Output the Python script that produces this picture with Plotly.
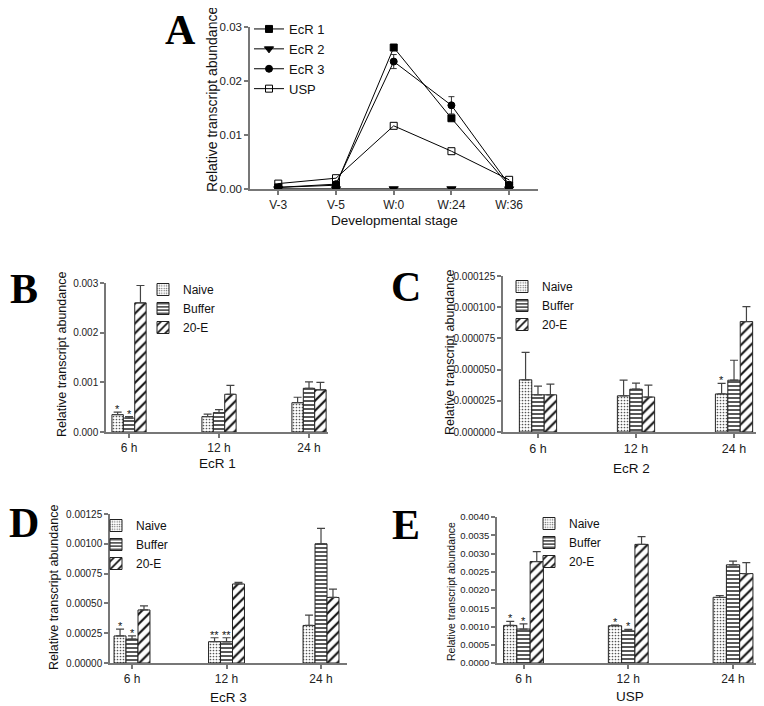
import plotly.graph_objects as go

# page is offset by the browser's default 8px body margin
OX, OY = 8, 8
W, H = 764 - OX, 706 - OY

# ---------------- data ----------------
stages = ["V-3", "V-5", "W:0", "W:24", "W:36"]
ecr1_A = [0.0003, 0.0007, 0.0262, 0.0131, 0.0006]
ecr2_A = [0.00003, 0.00003, 0.00004, 0.00004, 0.00002]
ecr3_A = [0.0003, 0.0009, 0.0236, 0.0155, 0.0008]
ecr3_A_err = [0, 0, 0.0013, 0.0016, 0]
usp_A = [0.0010, 0.0020, 0.0117, 0.0070, 0.0017]

times = ["6 h", "12 h", "24 h"]
groups = ["Naive", "Buffer", "20-E"]

B_naive = [0.00035, 0.00031, 0.00059]; B_naive_err = [0.00005, 0.00005, 0.00011]
B_buffer = [0.00028, 0.00039, 0.00088]; B_buffer_err = [0.00003, 0.00006, 0.00013]
B_20e = [0.0026, 0.00076, 0.00085]; B_20e_err = [0.00035, 0.00018, 0.00015]
B_stars = [["*", "", ""], ["*", "", ""], ["", "", ""]]

C_naive = [0.0000418, 0.000029, 0.0000305]; C_naive_err = [0.000022, 0.0000125, 0.0000085]
C_buffer = [0.0000298, 0.0000343, 0.0000415]; C_buffer_err = [0.0000069, 0.0000048, 0.000016]
C_20e = [0.0000298, 0.000028, 0.0000885]; C_20e_err = [0.0000085, 0.0000095, 0.000012]
C_stars = [["", "", "*"], ["", "", ""], ["", "", ""]]

D_naive = [0.000227, 0.000179, 0.000315]; D_naive_err = [0.000058, 0.000033, 0.000087]
D_buffer = [0.0002, 0.000178, 0.001]; D_buffer_err = [0.000027, 0.000034, 0.00013]
D_20e = [0.000445, 0.000663, 0.00055]; D_20e_err = [0.000035, 0.000014, 0.00007]
D_stars = [["*", "**", ""], ["*", "**", ""], ["", "", ""]]

E_naive = [0.00103, 0.00102, 0.0018]; E_naive_err = [0.00011, 0.00002, 0.00005]
E_buffer = [0.00093, 0.00088, 0.00269]; E_buffer_err = [0.00014, 0.00004, 0.0001]
E_20e = [0.00278, 0.00325, 0.00245]; E_20e_err = [0.00027, 0.00021, 0.0003]
E_stars = [["*", "*", ""], ["*", "*", ""], ["", "", ""]]

# ---------------- helpers ----------------
FONT = "Liberation Sans, Arial, sans-serif"
SERIF = "Liberation Serif, Times New Roman, serif"
AXC = "#777777"

def px(x):
    return (x - OX) / W

def py(y):
    return 1 - (y - OY) / H

def xd(x0, x1):
    return [px(x0), px(x1)]

def yd(ytop, ybot):
    return [py(ybot), py(ytop)]

fig = go.Figure()

# ---------------- panel A ----------------
line_specs = [
    ("EcR 1", ecr1_A, None, "square", 7),
    ("EcR 2", ecr2_A, None, "triangle-down", 8),
    ("EcR 3", ecr3_A, ecr3_A_err, "circle", 7),
    ("USP", usp_A, None, "square-open", 7),
]
for name, vals, err, sym, sz in line_specs:
    fig.add_trace(go.Scatter(
        x=stages, y=vals, name=name, mode="lines+markers",
        line=dict(color="black", width=1),
        marker=dict(symbol=sym, size=sz, color="black",
                    line=dict(color="black", width=1)),
        error_y=(dict(type="data", array=err, color="#333", thickness=1, width=3)
                 if err else None),
        xaxis="x", yaxis="y", legend="legend", showlegend=True,
    ))

# ---------------- bar panels ----------------
patterns = [
    dict(shape=".", size=3, solidity=0.25, fg="#555"),
    dict(shape="-", size=4, solidity=0.35, fg="#111"),
    dict(shape="/", size=7, solidity=0.3, fg="#111"),
]

BARGAP = 0.62
bw = (1 - BARGAP) / 3

panels = [
    ("2", "legend2", [B_naive, B_buffer, B_20e], [B_naive_err, B_buffer_err, B_20e_err], B_stars),
    ("3", "legend3", [C_naive, C_buffer, C_20e], [C_naive_err, C_buffer_err, C_20e_err], C_stars),
    ("4", "legend4", [D_naive, D_buffer, D_20e], [D_naive_err, D_buffer_err, D_20e_err], D_stars),
    ("5", "legend5", [E_naive, E_buffer, E_20e], [E_naive_err, E_buffer_err, E_20e_err], E_stars),
]

annotations = []
for ax, leg, series, errs, stars in panels:
    for j, (g, vals, err) in enumerate(zip(groups, series, errs)):
        p = patterns[j]
        fig.add_trace(go.Bar(
            x=[0, 1, 2], y=vals, name=g,
            marker=dict(color="white", line=dict(color="#222", width=1),
                        pattern=dict(shape=p["shape"], size=p["size"],
                                     solidity=p["solidity"], fgcolor=p["fg"],
                                     bgcolor="white", fillmode="replace")),
            error_y=dict(type="data", array=err, arrayminus=[0, 0, 0],
                         symmetric=False, color="#444", thickness=1.2, width=4),
            xaxis="x" + ax, yaxis="y" + ax, legend=leg, showlegend=True,
        ))
        for i in range(3):
            s = stars[j][i]
            if s:
                annotations.append(dict(
                    x=i + (j - 1) * bw, y=vals[i] + err[i], xref="x" + ax, yref="y" + ax,
                    text=s, showarrow=False, yanchor="bottom", yshift=-5,
                    font=dict(family=FONT, size=11, color="#111")))

def yax(domain_y, rng, dtick, fmt, fs, anchor):
    return dict(domain=domain_y, range=rng, dtick=dtick, tick0=0, tickformat=fmt,
                showline=True, linecolor=AXC, linewidth=1.5, ticks="outside",
                ticklen=4, tickcolor=AXC, tickwidth=1.5, showgrid=False,
                zeroline=False, anchor=anchor, automargin=False,
                tickfont=dict(family=FONT, size=fs, color="#222"))

def xax(domain_x, rng, anchor, fs, cat=False):
    d = dict(domain=domain_x, range=rng, showline=True, linecolor=AXC, linewidth=1.5,
             ticks="outside", ticklen=4, tickcolor=AXC, tickwidth=1.5, showgrid=False,
             zeroline=False, anchor=anchor, automargin=False,
             tickfont=dict(family=FONT, size=fs, color="#222"))
    if not cat:
        d.update(tickmode="array", tickvals=[0, 1, 2], ticktext=times)
    return d

layout = dict(
    width=W, height=H, margin=dict(l=0, r=0, t=0, b=0, pad=0, autoexpand=False),
    paper_bgcolor="white", plot_bgcolor="white",
    barmode="group", bargap=BARGAP, bargroupgap=0,
    font=dict(family=FONT, color="#111"),
)

# A
layout["xaxis"] = xax(xd(250, 538), [-0.49, 4.5], "y", 12, cat=True)
layout["yaxis"] = yax(yd(27, 189), [0, 0.03], 0.01, ".2f", 11.5, "x")
# B
layout["xaxis2"] = xax(xd(106, 328), [-0.256, 2.211], "y2", 12)
layout["yaxis2"] = yax(yd(283, 432), [0, 0.003], 0.001, ".3f", 10, "x2")
# C
layout["xaxis3"] = xax(xd(503, 760), [-0.357, 2.265], "y3", 12.5)
layout["yaxis3"] = yax(yd(276, 432), [0, 0.000125], 0.000025, ".6f", 10, "x3")
# D
layout["xaxis4"] = xax(xd(110, 347), [-0.233, 2.275], "y4", 12)
layout["yaxis4"] = yax(yd(514, 663), [0, 0.00125], 0.00025, ".5f", 10, "x4")
# E
layout["xaxis5"] = xax(xd(497, 763), [-0.253, 2.286], "y5", 12)
layout["yaxis5"] = yax(yd(517, 663), [0, 0.004], 0.0005, ".4f", 9.5, "x5")

def legend(x, y, fs):
    return dict(x=px(x), y=py(y), xanchor="left", yanchor="top",
                bgcolor="rgba(0,0,0,0)", borderwidth=0,
                font=dict(family=FONT, size=fs, color="#111"),
                tracegroupgap=0, itemwidth=30)

layout["legend"] = legend(249, 14, 13)
layout["legend2"] = legend(143, 275, 12)
layout["legend3"] = legend(502, 272, 12)
layout["legend4"] = legend(96, 511, 12)
layout["legend5"] = legend(529, 509, 12)

def ytitle(x, ycen, fs):
    return dict(x=px(x), y=py(ycen), xref="paper", yref="paper", text="Relative transcript abundance",
                textangle=-90, showarrow=False, font=dict(family=FONT, size=fs, color="#111"),
                xanchor="center", yanchor="middle")

def xtitle(xc, y, text, fs):
    return dict(x=px(xc), y=py(y), xref="paper", yref="paper", text=text, showarrow=False,
                font=dict(family=FONT, size=fs, color="#111"), xanchor="center", yanchor="middle")

def letter(xc, yc, t):
    return dict(x=px(xc), y=py(yc), xref="paper", yref="paper", text="<b>" + t + "</b>",
                showarrow=False, font=dict(family=SERIF, size=42, color="black"),
                xanchor="center", yanchor="middle")

annotations += [
    ytitle(212, 100, 14), ytitle(62, 355, 12.5), ytitle(450, 353, 12.5),
    ytitle(54, 588, 12.5), ytitle(451, 591, 10.5),
    xtitle(394, 221, "Developmental stage", 13.5),
    xtitle(217, 463, "EcR 1", 13.5), xtitle(631, 468, "EcR 2", 13.5),
    xtitle(228, 697, "EcR 3", 13.5), xtitle(630, 696, "USP", 13.5),
    letter(180, 30, "A"), letter(24, 289, "B"), letter(406, 287, "C"),
    letter(24, 523, "D"), letter(406, 525, "E"),
]
layout["annotations"] = annotations

fig.update_layout(**layout)
fig.write_html("out.html")
